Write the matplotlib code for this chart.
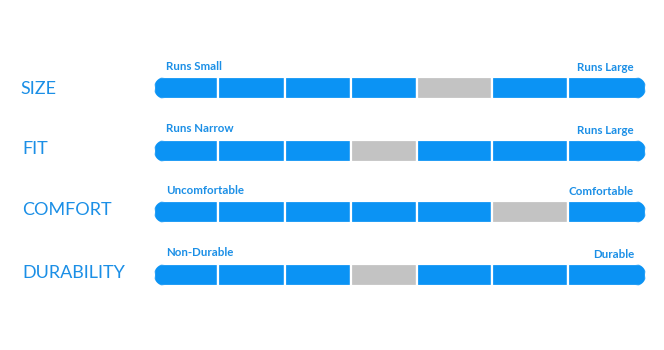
import matplotlib
matplotlib.use("Agg")
import matplotlib.pyplot as plt
from matplotlib.patches import Polygon
import numpy as np

# ---- data ----
categories = ["SIZE", "FIT", "COMFORT", "DURABILITY"]
left_labels = ["Runs Small", "Runs Narrow", "Uncomfortable", "Non-Durable"]
right_labels = ["Runs Large", "Runs Large", "Comfortable", "Durable"]
selected_segment = [4, 3, 5, 3]          # index of the grey (rated) segment
segment_widths = [64, 67, 66, 66, 75, 76, 78]  # relative segment widths of the scale

BLUE = "#0b93f4"
GREY = "#c3c3c3"
TEXT = "#1b8fe6"

W, H = 664, 350
fig = plt.figure(figsize=(W / 100, H / 100), dpi=100)
ax = fig.add_axes([0, 0, 1, 1])
ax.set_xlim(0, W)
ax.set_ylim(H, 0)
ax.axis("off")

bar_x0 = 154
bar_h = 22
row_y = [88, 151, 212, 275]

edges = np.concatenate([[0], np.cumsum(segment_widths)]) + bar_x0
x_end = edges[-1]
r = bar_h / 2


def stadium(x0, x1, yc, r):
    t1 = np.linspace(np.pi / 2, 3 * np.pi / 2, 60)
    t2 = np.linspace(-np.pi / 2, np.pi / 2, 60)
    left = np.column_stack([x0 + r + r * np.cos(t1), yc + r * np.sin(t1)])
    right = np.column_stack([x1 - r + r * np.cos(t2), yc + r * np.sin(t2)])
    return np.vstack([left, right])


for i, cat in enumerate(categories):
    yc = row_y[i]
    clip = Polygon(stadium(bar_x0, x_end, yc, r), closed=True,
                   facecolor="none", edgecolor="none")
    ax.add_patch(clip)
    colors = [GREY if j == selected_segment[i] else BLUE for j in range(len(segment_widths))]
    bars = ax.barh([yc] * len(segment_widths), segment_widths, left=edges[:-1],
                   height=bar_h, color=colors, edgecolor="white", linewidth=1.6)
    for b in bars:
        b.set_clip_path(clip)

    ax.text(20 if cat == "SIZE" else 22, yc + (6 if cat == "SIZE" else 3), cat,
            fontsize=13, color=TEXT, family="Lato", va="baseline", ha="left")
    ax.text(166, yc - 18.5, left_labels[i], fontsize=8.3, fontweight="bold", color=TEXT,
            family="Lato", va="baseline", ha="left")
    ax.text(634, yc - 17, right_labels[i], fontsize=8.3, fontweight="bold", color=TEXT,
            family="Lato", va="baseline", ha="right")

fig.savefig("out.png", dpi=100, facecolor="white")
